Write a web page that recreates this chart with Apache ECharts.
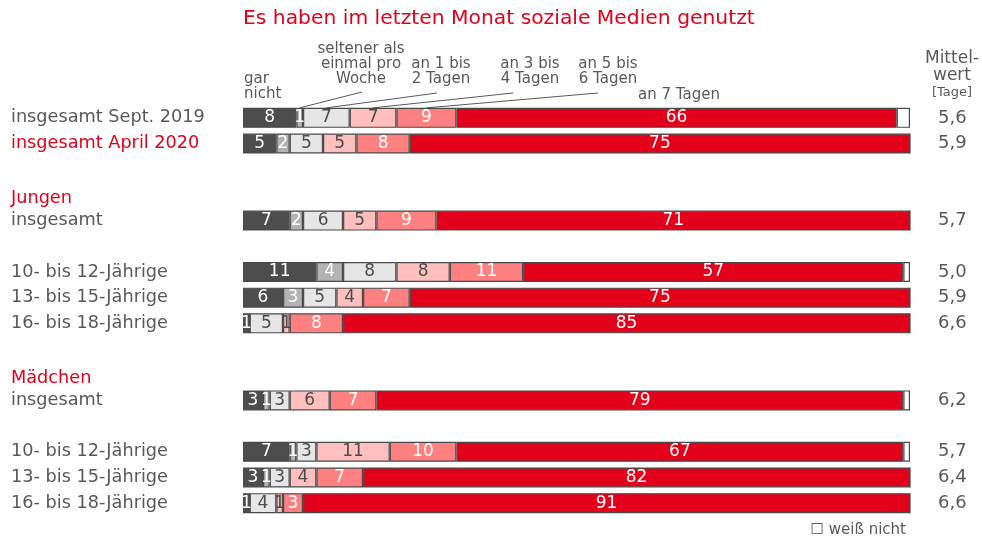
<!DOCTYPE html>
<html>
<head>
<meta charset="utf-8">
<script src="https://cdn.jsdelivr.net/npm/echarts@6/dist/echarts.min.js"></script>
<style>
  html, body { margin: 0; padding: 0; background: #fff; }
  #chart { width: 982px; height: 541px; }
</style>
</head>
<body>
<div id="chart"></div>
<script>
  // rows top to bottom, blank strings are spacer rows
  const rowLabels = ['insgesamt Sept. 2019', 'insgesamt April 2020', '', '', 'insgesamt', '',
    '10- bis 12-Jährige', '13- bis 15-Jährige', '16- bis 18-Jährige', '', '', 'insgesamt', '',
    '10- bis 12-Jährige', '13- bis 15-Jährige', '16- bis 18-Jährige'];
  const groupLabels = ['', '', '', '', 'Jungen', '', '', '', '', '', '', 'Mädchen', '', '', '', ''];
  const redRows = [1];
  const means = ['5,6', '5,9', '', '', '5,7', '', '5,0', '5,9', '6,6', '', '', '6,2', '', '5,7', '6,4', '6,6'];

  const seriesNames = ['gar nicht', 'seltener als einmal pro Woche', 'an 1 bis 2 Tagen',
    'an 3 bis 4 Tagen', 'an 5 bis 6 Tagen', 'an 7 Tagen', 'weiß nicht'];
  const garNicht   = [8, 5, null, null, 7, null, 11, 6, 1, null, null, 3, null, 7, 3, 1];
  const seltener   = [1, 2, null, null, 2, null, 4, 3, 0, null, null, 1, null, 1, 1, 0];
  const tage1bis2  = [7, 5, null, null, 6, null, 8, 5, 5, null, null, 3, null, 3, 3, 4];
  const tage3bis4  = [7, 5, null, null, 5, null, 8, 4, 1, null, null, 6, null, 11, 4, 1];
  const tage5bis6  = [9, 8, null, null, 9, null, 11, 7, 8, null, null, 7, null, 10, 7, 3];
  const tage7      = [66, 75, null, null, 71, null, 57, 75, 85, null, null, 79, null, 67, 82, 91];
  const weissNicht = [2, 0, null, null, 0, null, 1, 0, 0, null, null, 1, null, 1, 0, 0];

  const values = [garNicht, seltener, tage1bis2, tage3bis4, tage5bis6, tage7, weissNicht];
  const colors = ['#4d4d4d', '#b3b3b3', '#e6e6e6', '#ffbfbf', '#ff8080', '#e2001a', '#ffffff'];
  const labelColors = ['#fff', '#fff', '#4d4d4d', '#4d4d4d', '#fff', '#fff', '#4d4d4d'];

  const font = 'DejaVu Sans';
  const grey = '#595959';
  const red = '#e2001a';

  const chart = echarts.init(document.getElementById('chart'));

  const series = values.map((data, i) => ({
    name: seriesNames[i],
    type: 'bar',
    stack: 'total',
    barWidth: 20,
    data: data,
    itemStyle: { color: colors[i], borderColor: '#4a4a4a', borderWidth: 1.2 },
    label: {
      show: i < 6,
      position: 'inside',
      color: labelColors[i],
      fontFamily: font,
      fontSize: 17,
      formatter: p => (p.value ? String(p.value) : '')
    },
    emphasis: { disabled: true },
    animation: false
  }));

  const hdr = '15px "DejaVu Sans"';

  chart.setOption({
    animation: false,
    title: {
      text: 'Es haben im letzten Monat soziale Medien genutzt',
      left: 238,
      top: 4,
      textStyle: { color: red, fontFamily: font, fontSize: 20.3, fontWeight: 'normal' }
    },
    grid: { left: 243, right: 72, top: 105, bottom: 25 },
    xAxis: { type: 'value', min: 0, max: 100, show: false },
    yAxis: [{
      type: 'category',
      inverse: true,
      data: rowLabels,
      axisLine: { show: false },
      axisTick: { show: false },
      axisLabel: {
        align: 'left',
        margin: 232,
        interval: 0,
        color: grey,
        formatter: (v, i) => {
          const style = redRows.includes(i) ? 'r' : 'n';
          if (groupLabels[i]) return '{r|' + groupLabels[i] + '}\n{n|' + v + '}\n{e| }';
          return '{' + style + '|' + v + '}';
        },
        rich: {
          n: { color: grey, fontFamily: font, fontSize: 17.7, lineHeight: 22 },
          r: { color: red, fontFamily: font, fontSize: 17.7, lineHeight: 22 },
          e: { fontSize: 17.7, lineHeight: 22 }
        }
      }
    }, {
      type: 'category',
      inverse: true,
      position: 'right',
      data: means,
      axisLine: { show: false },
      axisTick: { show: false },
      axisLabel: { align: 'left', margin: 28, interval: 0, fontFamily: font, fontSize: 18, color: grey }
    }],
    series: series,
    graphic: [
      { id: 't0', type: 'text', left: 244, top: 72, style: { text: 'gar\nnicht', fill: grey, font: hdr, lineHeight: 15 } },
      { id: 't1', type: 'text', x: 361, y: 42, style: { text: 'seltener als\neinmal pro\nWoche', fill: grey, font: hdr, lineHeight: 15, align: 'center' } },
      { id: 't2', type: 'text', x: 441, y: 57, style: { text: 'an 1 bis\n2 Tagen', fill: grey, font: hdr, lineHeight: 15, align: 'center' } },
      { id: 't3', type: 'text', x: 530, y: 57, style: { text: 'an 3 bis\n4 Tagen', fill: grey, font: hdr, lineHeight: 15, align: 'center' } },
      { id: 't4', type: 'text', x: 608, y: 57, style: { text: 'an 5 bis\n6 Tagen', fill: grey, font: hdr, lineHeight: 15, align: 'center' } },
      { id: 't5', type: 'text', x: 679, y: 88, style: { text: 'an 7 Tagen', fill: grey, font: hdr, lineHeight: 15, align: 'center' } },
      { id: 't6', type: 'text', x: 952, y: 50, style: { text: 'Mittel-\nwert', fill: grey, font: '17px "DejaVu Sans"', lineHeight: 17, align: 'center' } },
      { id: 't7', type: 'text', x: 952, y: 86, style: { text: '[Tage]', fill: grey, font: '13px "DejaVu Sans"', align: 'center' } },
      { id: 't8', type: 'text', right: 76, top: 523, style: { text: '☐ weiß nicht', fill: grey, font: hdr } }
    ]
  });

  // leader lines from the header labels to the segments of the first bar
  const tops = [[362, 92], [437, 93], [513, 93], [598, 93]];
  const lines = [];
  let cum = garNicht[0];
  [1, 2, 3, 4].forEach((s, k) => {
    const mid = cum + values[s][0] / 2;
    cum += values[s][0];
    const p = chart.convertToPixel({ xAxisIndex: 0, yAxisIndex: 0 }, [mid, 0]);
    lines.push({
      id: 'leader' + k,
      type: 'line',
      shape: { x1: tops[k][0], y1: tops[k][1], x2: p[0], y2: p[1] - 10 },
      style: { stroke: grey, lineWidth: 1 }
    });
  });
  chart.setOption({ graphic: lines });
</script>
</body>
</html>
